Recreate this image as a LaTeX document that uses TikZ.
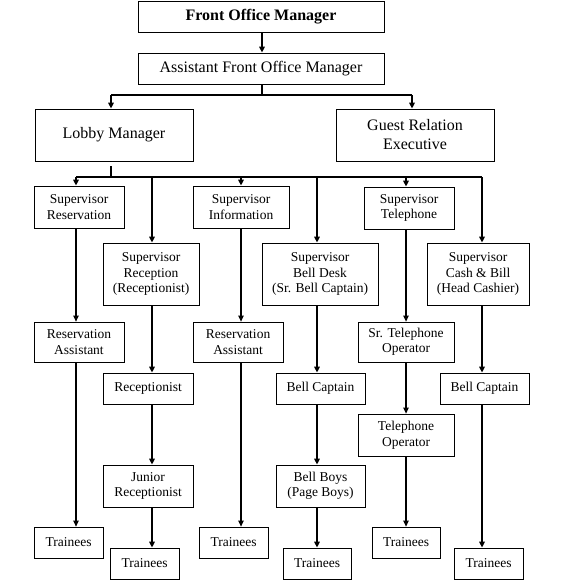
\documentclass[tikz,border=0pt]{standalone}
\usepackage{fontspec}
\setmainfont{Liberation Serif}
\usetikzlibrary{arrows.meta}
\tikzset{
  box/.style={draw, line width=0.8pt, align=center, inner sep=1pt,
    font=\fontsize{13.5}{15.5}\selectfont},
  bigbox/.style={box, font=\fontsize{16}{19}\selectfont},
  wire/.style={line width=1.6pt},
  conn/.style={line width=1.6pt, -{Triangle[length=6pt,width=5.5pt]}},
  thinconn/.style={line width=1.1pt, -{Triangle[length=6pt,width=5.5pt]}},
}
\newcommand\orgbox[7][box]{%
  \node[#1, minimum width={(#5)-(#3)}, minimum height={(#6)-(#4)}]
    (#2) at ({((#3)+(#5))/2},{((#4)+(#6))/2}) {#7};}
\begin{document}
\begin{tikzpicture}[x=1pt,y=-1pt]
\useasboundingbox (0,0) rectangle (561,588);
% boxes
\orgbox[bigbox]{FOM}{138}{1}{384}{32}{\bfseries Front Office Manager}
\orgbox[bigbox]{AFOM}{138}{53}{384}{84}{Assistant Front Office Manager}
\orgbox[bigbox]{LM}{35}{109}{193}{161}{Lobby Manager}
\orgbox[bigbox]{GRE}{336}{109}{494}{161}{Guest Relation\\Executive}
\orgbox{SRes}{34}{186}{124}{228}{Supervisor\\Reservation}
\orgbox{SRec}{103}{243}{199}{305}{Supervisor\\Reception\\(Receptionist)}
\orgbox{SInf}{193}{186}{289}{228}{Supervisor\\Information}
\orgbox{SBD}{262}{243}{378}{305}{Supervisor\\Bell Desk\\(Sr. Bell Captain)}
\orgbox{STel}{364}{187}{454}{229}{Supervisor\\Telephone}
\orgbox{SCash}{427}{243}{529}{305}{Supervisor\\Cash \& Bill\\(Head Cashier)}
\orgbox{RA1}{34}{322}{124}{362}{Reservation\\Assistant}
\orgbox{RA2}{193}{322}{283}{362}{Reservation\\Assistant}
\orgbox{Rec}{103}{373}{193}{404}{Receptionist}
\orgbox{STO}{358}{322}{454}{362}{Sr. Telephone\\Operator}
\orgbox{BC1}{276}{373}{365}{404}{Bell Captain}
\orgbox{BC2}{440}{373}{529}{404}{Bell Captain}
\orgbox{TO}{358}{414}{454}{456}{Telephone\\Operator}
\orgbox{JR}{103}{465}{193}{507}{Junior\\Receptionist}
\orgbox{BB}{276}{465}{365}{507}{Bell Boys\\(Page Boys)}
\orgbox{T1}{34}{527}{103}{558}{Trainees}
\orgbox{T2}{110}{548}{179}{579}{Trainees}
\orgbox{T3}{199}{527}{268}{558}{Trainees}
\orgbox{T4}{283}{548}{351}{579}{Trainees}
\orgbox{T5}{372}{527}{440}{558}{Trainees}
\orgbox{T6}{454}{548}{523}{579}{Trainees}
% junction coordinates
\coordinate (tm) at (262,95);
\coordinate (ta) at (111,95);
\coordinate (tb) at (412,95);
\coordinate (bl) at (111,177);
\coordinate (c1) at (76,177);
\coordinate (c2) at (152,177);
\coordinate (c3) at (241,177);
\coordinate (c4) at (317,177);
\coordinate (c5) at (406,177);
\coordinate (c6) at (482,177);
% top connectors
\draw[conn] (FOM.south -| tm) -- (AFOM.north -| tm);
\draw[wire] (AFOM.south -| tm) -- (tm);
\draw[wire] (ta) -- (tb);
\draw[conn] (ta) -- (LM.north -| ta);
\draw[conn] (tb) -- (GRE.north -| tb);
% lobby manager bus
\draw[wire, shorten <=5pt] (LM.south -| bl) -- (bl);
\draw[wire] (c1) -- (c6);
\draw[conn] (c1) -- (SRes.north -| c1);
\draw[conn] (c2) -- (SRec.north -| c2);
\draw[conn] (c3) -- (SInf.north -| c3);
\draw[conn] (c4) -- (SBD.north -| c4);
\draw[conn] (c5) -- (STel.north -| c5);
\draw[conn] (c6) -- (SCash.north -| c6);
% column 1
\draw[thinconn] (SRes.south -| c1) -- (RA1.north -| c1);
\draw[thinconn] (RA1.south -| c1) -- (T1.north -| c1);
% column 2
\draw[conn] (SRec.south -| c2) -- (Rec.north -| c2);
\draw[conn] (Rec.south -| c2) -- (JR.north -| c2);
\draw[conn] (JR.south -| c2) -- (T2.north -| c2);
% column 3
\draw[thinconn] (SInf.south -| c3) -- (RA2.north -| c3);
\draw[thinconn] (RA2.south -| c3) -- (T3.north -| c3);
% column 4
\draw[conn] (SBD.south -| c4) -- (BC1.north -| c4);
\draw[conn] (BC1.south -| c4) -- (BB.north -| c4);
\draw[conn] (BB.south -| c4) -- (T4.north -| c4);
% column 5
\draw[thinconn] (STel.south -| c5) -- (STO.north -| c5);
\draw[thinconn] (STO.south -| c5) -- (TO.north -| c5);
\draw[thinconn] (TO.south -| c5) -- (T5.north -| c5);
% column 6
\draw[conn] (SCash.south -| c6) -- (BC2.north -| c6);
\draw[conn] (BC2.south -| c6) -- (T6.north -| c6);
\end{tikzpicture}
\end{document}
